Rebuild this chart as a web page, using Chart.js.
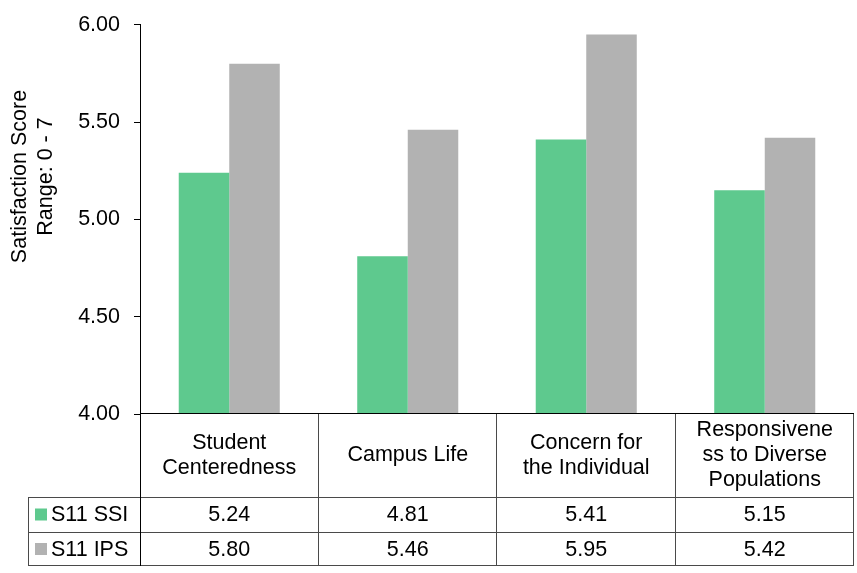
<!DOCTYPE html>
<html>
<head>
<meta charset="utf-8">
<script src="https://cdn.jsdelivr.net/npm/chart.js@4/dist/chart.umd.min.js"></script>
<style>
  html, body { margin: 0; padding: 0; background: #fff; }
  #wrap { width: 857px; height: 573px; }
</style>
</head>
<body>
<div id="wrap"><canvas id="c" width="857" height="573"></canvas></div>
<script>
// Categories (multi-line headers for the data table under the plot)
const categories = [
  ['Student', 'Centeredness'],
  ['Campus Life'],
  ['Concern for', 'the Individual'],
  ['Responsivene', 'ss to Diverse', 'Populations']
];
const seriesNames = ['S11 SSI', 'S11 IPS'];
const ssiValues = [5.24, 4.81, 5.41, 5.15];
const ipsValues = [5.80, 5.46, 5.95, 5.42];
const yTitle = ['Satisfaction Score', 'Range: 0 - 7'];
const yMin = 4, yMax = 6, yStep = 0.5;

const GREEN = '#5ec98e';
const GRAY = '#b2b2b2';
const FONT = '"Liberation Sans", Arial, sans-serif';
const FS = 21.5;

// Draws the rotated axis title, the category axis line and the data table below it
const tablePlugin = {
  id: 'dataTable',
  afterDraw(chart) {
    const { ctx, chartArea } = chart;
    const x = chart.scales.x;
    const n = categories.length;
    const colW = (chartArea.right - chartArea.left) / n;
    const top = chartArea.bottom;
    const headerBottom = top + 83;
    const row1Bottom = headerBottom + 35;
    const row2Bottom = row1Bottom + 34;
    const labelLeft = 28;

    ctx.save();
    // axis title
    ctx.fillStyle = '#000';
    ctx.font = FS + 'px ' + FONT;
    ctx.textAlign = 'center';
    ctx.textBaseline = 'alphabetic';
    const cy = 176.5;
    [26, 51.5].forEach((bx, i) => {
      ctx.save();
      ctx.translate(bx, cy);
      ctx.rotate(-Math.PI / 2);
      ctx.fillText(yTitle[i], 0, 0);
      ctx.restore();
    });

    const line = (x1, y1, x2, y2) => {
      ctx.beginPath(); ctx.moveTo(x1, y1); ctx.lineTo(x2, y2); ctx.stroke();
    };
    const L = chartArea.left, R = chartArea.right;
    ctx.lineWidth = 1;

    // table grid
    ctx.strokeStyle = '#4a4a4a';
    for (let i = 1; i <= n; i++) {
      const xx = Math.round(L + colW * i) - 0.5;
      line(xx, top, xx, row2Bottom);
    }
    line(labelLeft + 0.5, headerBottom, labelLeft + 0.5, row2Bottom);
    line(labelLeft, headerBottom + 0.5, R, headerBottom + 0.5);
    line(labelLeft, row1Bottom + 0.5, R, row1Bottom + 0.5);
    line(labelLeft, row2Bottom - 0.5, R, row2Bottom - 0.5);

    // category axis line and extension of the value axis line
    ctx.strokeStyle = '#000';
    line(L, Math.round(top) - 0.5, R, Math.round(top) - 0.5);
    line(Math.round(L) + 0.5, top, Math.round(L) + 0.5, row2Bottom);

    // header text
    ctx.fillStyle = '#000';
    ctx.textAlign = 'center';
    ctx.textBaseline = 'middle';
    const lh = 25;
    const hc = (top + headerBottom) / 2;
    categories.forEach((lines, i) => {
      const cx = x.getPixelForValue(i);
      const y0 = hc - (lines.length - 1) * lh / 2;
      lines.forEach((t, j) => ctx.fillText(t, cx, y0 + j * lh));
    });

    // rows
    const rows = [
      { name: seriesNames[0], color: GREEN, vals: ssiValues, y: (headerBottom + row1Bottom) / 2 },
      { name: seriesNames[1], color: GRAY, vals: ipsValues, y: (row1Bottom + row2Bottom) / 2 }
    ];
    rows.forEach(r => {
      ctx.fillStyle = r.color;
      ctx.fillRect(35, r.y - 6, 12, 12);
      ctx.fillStyle = '#000';
      ctx.textAlign = 'left';
      ctx.fillText(r.name, 51, r.y + 1);
      ctx.textAlign = 'center';
      r.vals.forEach((v, i) => ctx.fillText(v.toFixed(2), x.getPixelForValue(i), r.y + 1));
    });
    ctx.restore();
  }
};

new Chart(document.getElementById('c'), {
  type: 'bar',
  data: {
    labels: categories,
    datasets: [
      { label: seriesNames[0], data: ssiValues, backgroundColor: GREEN },
      { label: seriesNames[1], data: ipsValues, backgroundColor: GRAY }
    ]
  },
  options: {
    responsive: false,
    animation: false,
    devicePixelRatio: 1,
    layout: { padding: { top: 24, right: 3, bottom: 159, left: 0 } },
    datasets: { bar: { categoryPercentage: 0.566, barPercentage: 1.0 } },
    plugins: { legend: { display: false }, tooltip: { enabled: false } },
    scales: {
      x: { display: false },
      y: {
        min: yMin, max: yMax,
        afterFit(scale) { scale.width = 140; },
        border: { display: true, color: '#000', width: 1 },
        grid: { drawOnChartArea: false, drawTicks: true, tickLength: 6, color: '#000' },
        ticks: {
          stepSize: yStep,
          padding: 14,
          color: '#000',
          font: { family: FONT, size: FS, lineHeight: 1 },
          callback: v => Number(v).toFixed(2)
        }
      }
    }
  },
  plugins: [tablePlugin]
});
</script>
</body>
</html>
